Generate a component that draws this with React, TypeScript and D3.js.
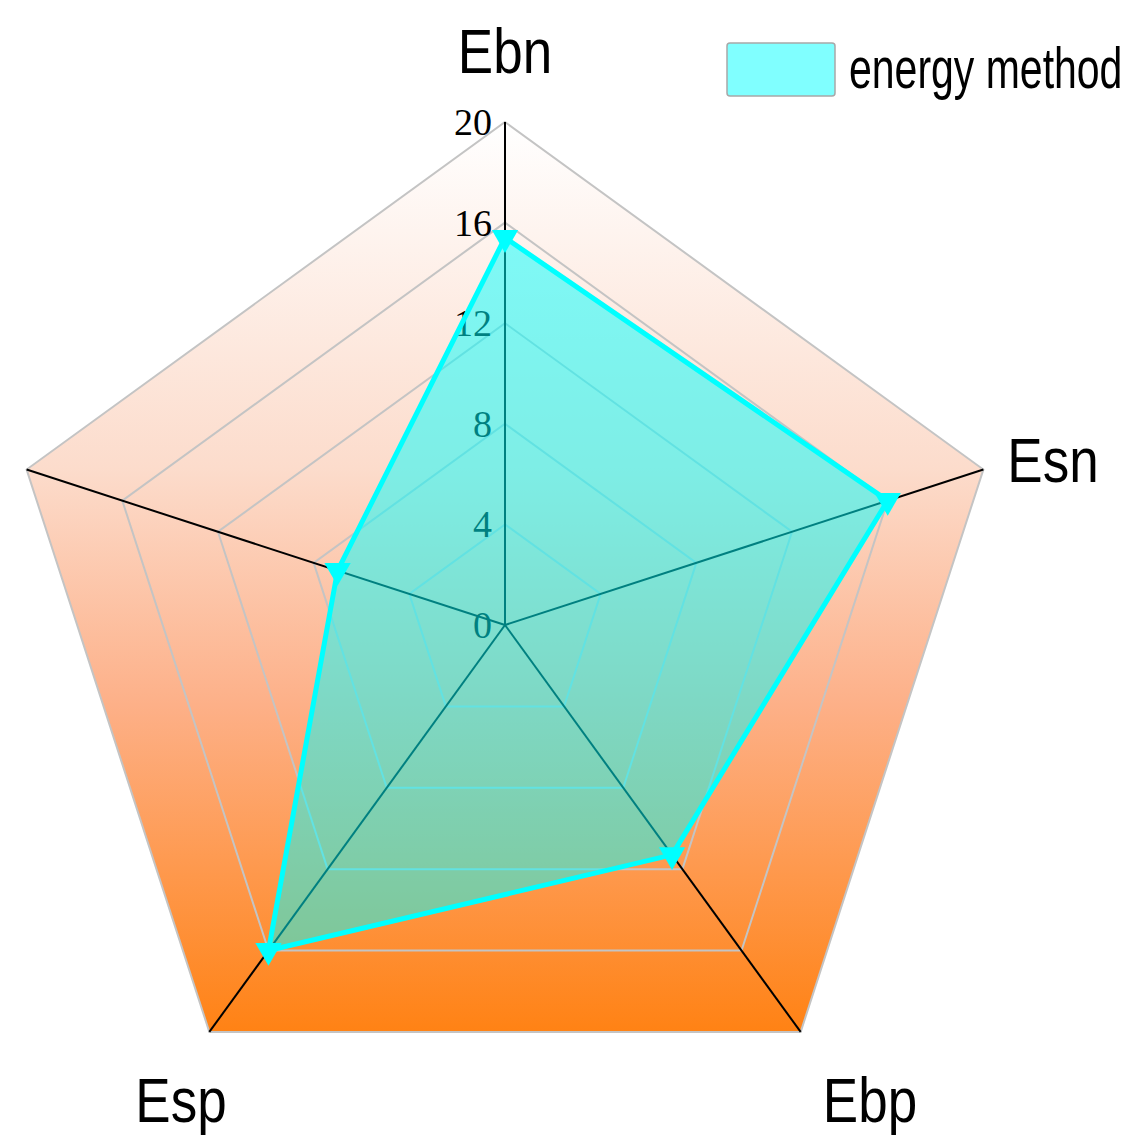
import React from "react";
import * as d3 from "d3";

const axes = ["Ebn", "Esn", "Ebp", "Esp", ""];
const values = [15.4, 16.0, 11.3, 16.0, 7.0];
const ticks = [0, 4, 8, 12, 16, 20];
const seriesName = "energy method";

const W = 1121;
const H = 1138;
const cx = 505;
const cy = 625;
const R = 503;

// label layout (center x, baseline y)
const labelPos: [number, number][] = [
  [505, 73],
  [1053, 482],
  [870, 1122],
  [181, 1122],
  [0, 0],
];

export default function App() {
  const r = d3.scaleLinear().domain([0, 20]).range([0, R]);
  const n = axes.length;
  const ang = (i: number) => (i * 2 * Math.PI) / n;
  const pt = (i: number, v: number): [number, number] => [
    cx + r(v) * Math.sin(ang(i)),
    cy - r(v) * Math.cos(ang(i)),
  ];
  const ring = (v: number) =>
    d3.range(n).map((i) => pt(i, v).join(",")).join(" ");
  const dataPts = values.map((v, i) => pt(i, v));
  const line = d3.line().curve(d3.curveLinearClosed);
  const tri = d3.symbol().type(d3.symbolTriangle).size(300)();

  return (
    <svg width={W} height={H} style={{ position: "absolute", left: 0, top: 0 }}>
      <defs>
        <linearGradient id="bg" x1="0" y1={cy - R} x2="0" y2={pt(2, 20)[1]} gradientUnits="userSpaceOnUse">
          <stop offset="0" stopColor="#ffffff" />
          <stop offset="0.38" stopColor="#fcdccc" />
          <stop offset="0.64" stopColor="#fdb088" />
          <stop offset="1" stopColor="#ff8214" />
        </linearGradient>
      </defs>
      <rect width={W} height={H} fill="#fff" />
      <polygon points={ring(20)} fill="url(#bg)" />
      {ticks.slice(1).map((t) => (
        <polygon key={t} points={ring(t)} fill="none" stroke="#c4c4c4" strokeWidth={2} />
      ))}
      {axes.map((_, i) => {
        const [x, y] = pt(i, 20);
        return <line key={i} x1={cx} y1={cy} x2={x} y2={y} stroke="#000" strokeWidth={2} />;
      })}
      {ticks.map((t) => (
        <text
          key={t}
          x={492}
          y={cy - r(t)}
          textAnchor="end"
          dominantBaseline="central"
          fontFamily="'Liberation Serif', 'Times New Roman', serif"
          fontSize={38}
          fill="#000"
        >
          {t}
        </text>
      ))}
      <path d={line(dataPts) || ""} fill="#00ffff" fillOpacity={0.5} stroke="#00ffff" strokeWidth={5} strokeLinejoin="round" />
      {dataPts.map(([x, y], i) => (
        <path key={i} d={tri || ""} transform={`translate(${x},${y}) rotate(180)`} fill="#00ffff" />
      ))}
      {axes.map((a, i) =>
        a ? (
          <text
            key={a}
            transform={`translate(${labelPos[i][0]},${labelPos[i][1]}) scale(1,1.2)`}
            textAnchor="middle"
            fontFamily="'Liberation Sans', Arial, sans-serif"
            fontSize={53}
            fill="#000"
          >
            {a}
          </text>
        ) : null
      )}
      <rect x={727} y={43} width={108} height={53} rx={3} fill="#80ffff" stroke="#a8a8a8" strokeWidth={1.5} />
      <text
        transform="translate(849,88) scale(1,1.4)"
        fontFamily="'Liberation Sans', Arial, sans-serif"
        fontSize={41}
        fill="#000"
      >
        {seriesName}
      </text>
    </svg>
  );
}
